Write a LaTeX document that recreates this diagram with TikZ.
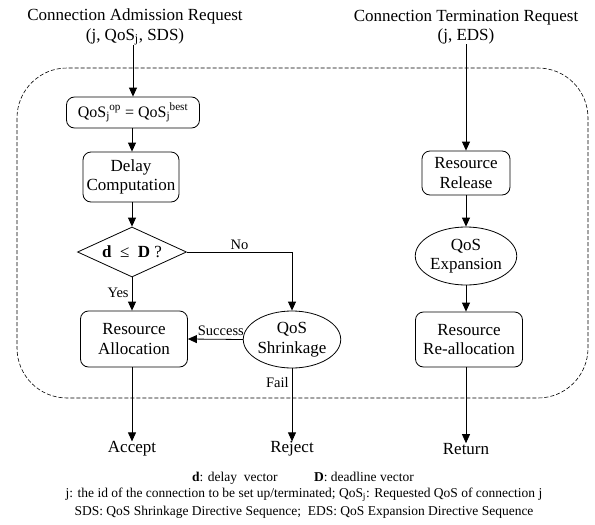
\documentclass[tikz,border=0pt]{standalone}
\usepackage{fontspec}
\setmainfont{Liberation Serif}
\usetikzlibrary{shapes.geometric,arrows.meta}
\begin{document}
\begin{tikzpicture}[x=1pt,y=-1pt,
  every node/.style={font=\fontsize{17}{19.5}\selectfont, inner sep=0pt},
  rbox/.style={draw, rounded corners=8pt, line width=0.8pt, align=center},
  ell/.style={draw, ellipse, line width=0.8pt, align=center, inner sep=0pt},
  arr/.style={line width=0.8pt, -{Triangle[length=9pt,width=8pt]}},
  lbl/.style={font=\fontsize{14.5}{16}\selectfont},
  leg/.style={font=\fontsize{13.5}{16}\selectfont, align=center}]
\useasboundingbox (0,0) rectangle (595,525);
% dashed region
\draw[dashed, dash pattern=on 4pt off 2pt, line width=0.6pt, rounded corners=50pt] (17,68) rectangle (588,398);
% titles
\node[align=center] (t1) at (135,27) {Connection Admission Request\\(j, QoS\textsubscript{j}, SDS)};
\node[align=center] (t2) at (466,27) {Connection Termination Request\\(j, EDS)};
% left column
\node[rbox, minimum width=133pt, minimum height=31pt, font=\fontsize{16}{18}\selectfont] (q) at (133,112.5) {QoS\textsubscript{j}\kern-0.5pt\textsuperscript{op} = QoS\textsubscript{j}\kern-0.5pt\textsuperscript{best}};
\node[rbox, minimum width=96pt, minimum height=50pt] (dc) at (131,177) {Delay\\Computation};
\node[draw, diamond, aspect=2.2, line width=0.8pt, minimum width=109pt, minimum height=50pt] (dm) at (132,252) {\textbf{d}\ \ ≤\ \ \textbf{D} ?};
\node[rbox, minimum width=107pt, minimum height=56pt] (ra) at (134,339) {Resource\\Allocation};
\node[ell, minimum width=95pt, minimum height=57pt] (qs) at (292,339.5) {QoS\\Shrinkage};
% right column
\node[rbox, minimum width=88pt, minimum height=44pt] (rr) at (466,173) {Resource\\Release};
\node[ell, minimum width=94pt, minimum height=58pt] (qe) at (466,256) {QoS\\Expansion};
\node[rbox, minimum width=107pt, minimum height=55pt] (rl) at (469,339.5) {Resource\\Re-allocation};
% outcomes
\node (acc) at (132,449) {Accept};
\node (rej) at (292,449) {Reject};
\node (ret) at (466,449) {Return};
% connectors
\draw[arr] (t1.south -| q.north) -- (q.north);
\draw[arr] (q.south -| dc.north) ++(1,0) coordinate (c1) -- (c1 |- dc.north);
\draw[arr] (dc.south -| dm.north) -- (dm.north);
\draw[arr] (dm.south) -- node[lbl, left=3pt, pos=0.45] {Yes} (dm.south |- ra.north);
\draw[arr] (dm.east) -- node[lbl, above=2pt, pos=0.5] {No} (dm.east -| qs.north) -- (qs.north);
\draw[arr] (qs.west) -- node[lbl, above=3pt, pos=0.4] {Success} (ra.east);
\draw[arr] (qs.south) -- node[lbl, left=3pt, pos=0.2] {Fail} (qs.south |- rej.north);
\draw[arr] (ra.south -| acc.north) -- (acc.north);
\draw[arr] (t2.south -| rr.north) -- (rr.north);
\draw[arr] (rr.south) -- (qe.north);
\draw[arr] (qe.south) -- (qe.south |- rl.north);
\draw[arr] (rl.south -| ret.north) -- (ret.north);
% legend
\node[leg] (l1) at (303,478) {\textbf{d}: delay\ \ vector \hspace{2.2em} \textbf{D}: deadline vector};
\node[leg] (l2) at (304,495) {j: the id of the connection to be set up/terminated; QoS\textsubscript{j}: Requested QoS of connection j};
\node[leg] (l3) at (304,512) {SDS: QoS Shrinkage Directive Sequence;\ \ EDS: QoS Expansion Directive Sequence};
\end{tikzpicture}
\end{document}
